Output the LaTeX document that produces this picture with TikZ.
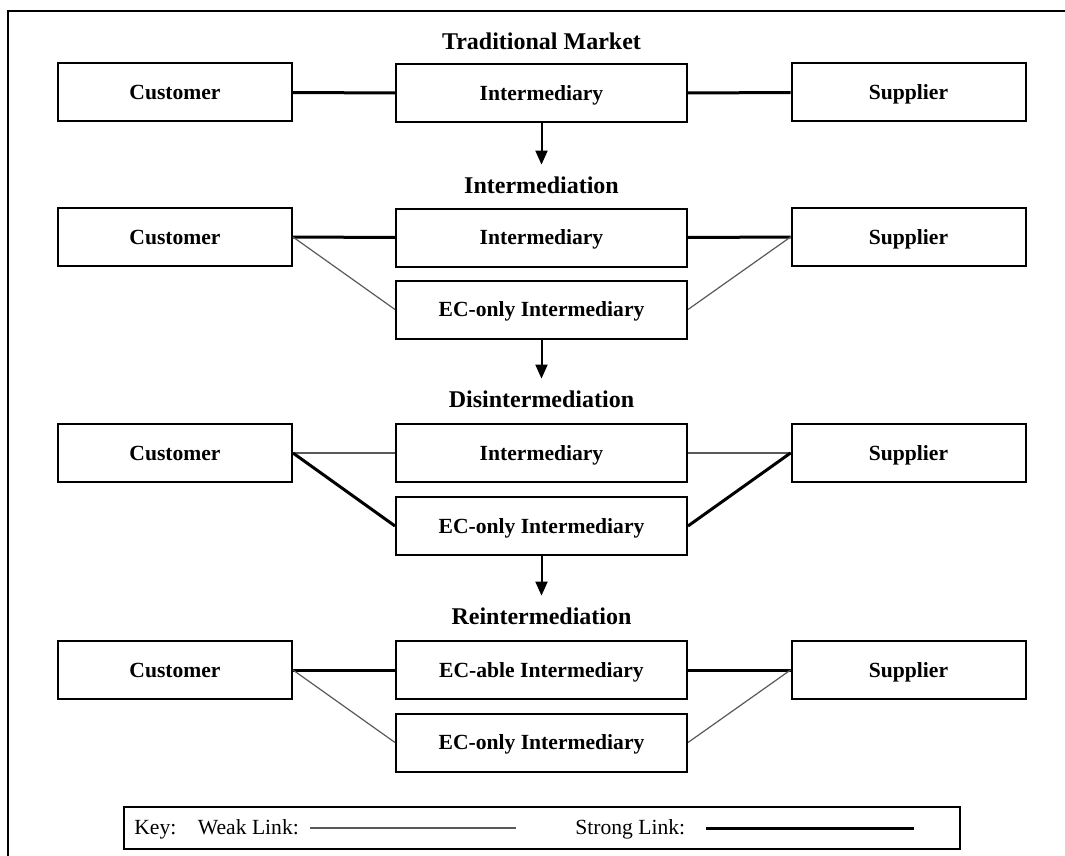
\documentclass[tikz,border=0pt]{standalone}
\usepackage{fontspec}
\setmainfont{Liberation Serif}
\usetikzlibrary{arrows.meta}
\begin{document}
\begin{tikzpicture}[x=0.5pt,y=-0.5pt,
  sidebox/.style={draw, line width=1pt, minimum width=117pt, minimum height=29pt, inner sep=0pt,
    text height=8.6pt, text depth=1.4pt, font=\fontsize{10.8}{12}\bfseries},
  midbox/.style={sidebox, minimum width=145.5pt},
  stagetitle/.style={font=\fontsize{12}{14}\bfseries, inner sep=0pt, text height=9.4pt, text depth=1.6pt},
  strong/.style={line width=1.5pt},
  weak/.style={line width=0.6pt, black!65},
  stagearrow/.style={line width=1pt, -{Triangle[width=6pt,length=7pt]}},
  keytext/.style={inner sep=0pt, anchor=west, text height=8.4pt, text depth=1.6pt, font=\fontsize{10.8}{12}\selectfont}]
\useasboundingbox (0,0) rectangle (1065,856);
% outer frame (top and left edges)
\draw[line width=1pt] (1065,11) -- (8,11) -- (8,856);

% ---- Traditional market
\node[stagetitle] (t1) at (541.5,42) {Traditional Market};
\node[sidebox] (c1) at (175,92.5) {Customer};
\node[midbox]  (i1) at (541.5,93) {Intermediary};
\node[sidebox] (s1) at (908.5,92.5) {Supplier};
\draw[strong] (c1.east) -- (i1.west);
\draw[strong] (i1.east) -- (s1.west);

% ---- Intermediation
\node[stagetitle] (t2) at (541.5,186) {Intermediation};
\draw[stagearrow] (i1.south) -- ([yshift=5pt]t2.north);
\node[sidebox] (c2) at (175,237) {Customer};
\node[midbox]  (i2) at (541.5,237.5) {Intermediary};
\node[sidebox] (s2) at (908.5,237) {Supplier};
\node[midbox]  (e2) at (541.5,309.5) {EC-only Intermediary};
\draw[strong] (c2.east) -- (i2.west);
\draw[strong] (i2.east) -- (s2.west);
\draw[weak] (c2.east) -- (e2.west);
\draw[weak] (e2.east) -- (s2.west);

% ---- Disintermediation
\node[stagetitle] (t3) at (541.5,400) {Disintermediation};
\draw[stagearrow] (e2.south) -- ([yshift=5pt]t3.north);
\node[sidebox] (c3) at (175,453) {Customer};
\node[midbox]  (i3) at (541.5,453) {Intermediary};
\node[sidebox] (s3) at (908.5,453) {Supplier};
\node[midbox]  (e3) at (541.5,526) {EC-only Intermediary};
\draw[weak] (c3.east) -- (i3.west);
\draw[weak] (i3.east) -- (s3.west);
\draw[strong] (c3.east) -- (e3.west);
\draw[strong] (e3.east) -- (s3.west);

% ---- Reintermediation
\node[stagetitle] (t4) at (541.5,617) {Reintermediation};
\draw[stagearrow] (e3.south) -- ([yshift=5pt]t4.north);
\node[sidebox] (c4) at (175,670) {Customer};
\node[midbox]  (i4) at (541.5,670) {EC-able Intermediary};
\node[sidebox] (s4) at (908.5,670) {Supplier};
\node[midbox]  (e4) at (541.5,742.5) {EC-only Intermediary};
\draw[strong] (c4.east) -- (i4.west);
\draw[strong] (i4.east) -- (s4.west);
\draw[weak] (c4.east) -- (e4.west);
\draw[weak] (e4.east) -- (s4.west);

% ---- Key
\node[draw, line width=1pt, minimum width=418pt, minimum height=21pt, inner sep=0pt] (key) at (542,828) {};
\node[keytext] (kw) at (134,828) {Key:\quad Weak Link:};
\coordinate (wa) at (310,828);
\coordinate (wb) at (516,828);
\draw[weak] (wa) -- (wb);
\node[keytext] (ks) at (575,828) {Strong Link:};
\coordinate (sa) at (706,828);
\coordinate (sb) at (914,828);
\draw[strong] (sa) -- (sb);
\end{tikzpicture}
\end{document}
